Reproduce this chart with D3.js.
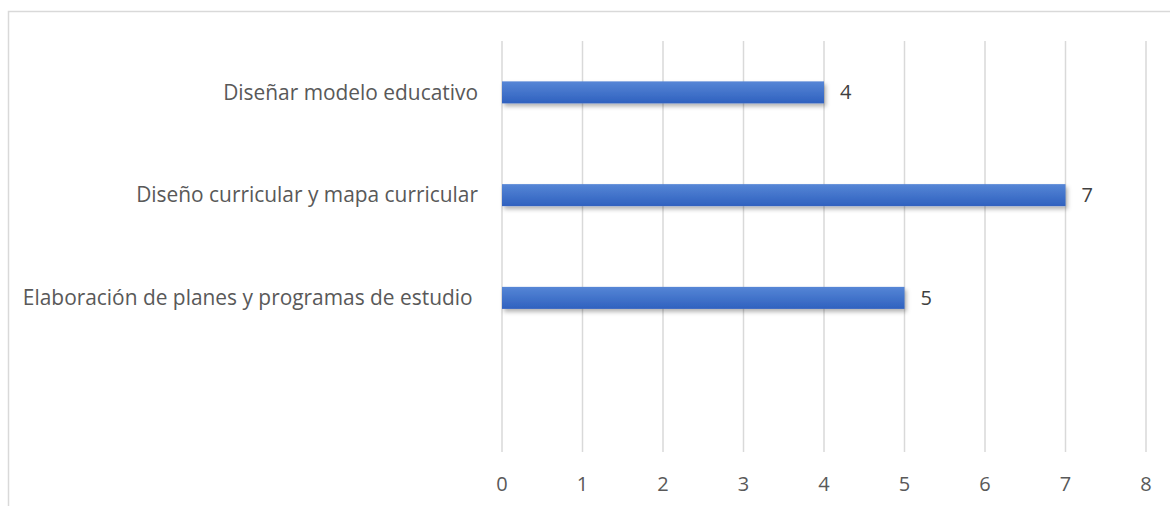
<!DOCTYPE html>
<html>
<head>
<meta charset="utf-8">
<script src="https://cdn.jsdelivr.net/npm/d3@7"></script>
<style>
  body { margin: 0; background: #fff; }
  svg { display: block; font-family: "Open Sans", sans-serif; }
</style>
</head>
<body>
<div id="chart"></div>
<script>
const width = 1170;
const height = 506;

// categories top to bottom (last band is empty in the original)
const categories = [
  "Diseñar modelo educativo",
  "Diseño curricular y mapa curricular",
  "Elaboración de planes y programas de estudio ",
  ""
];
const values = [4, 7, 5, null];
const ticks = [0, 1, 2, 3, 4, 5, 6, 7, 8];

const margin = { top: 41, right: 24, bottom: 54, left: 502 };

const svg = d3
  .select("#chart")
  .append("svg")
  .attr("width", width)
  .attr("height", height);

const defs = svg.append("defs");
const grad = defs.append("linearGradient")
  .attr("id", "barGrad")
  .attr("x1", 0).attr("y1", 0).attr("x2", 0).attr("y2", 1);
grad.append("stop").attr("offset", "0%").attr("stop-color", "#5686d6");
grad.append("stop").attr("offset", "100%").attr("stop-color", "#2f61bf");

const shadow = defs.append("filter").attr("id", "shadow")
  .attr("x", "-5%").attr("y", "-30%").attr("width", "110%").attr("height", "180%");
shadow.append("feDropShadow")
  .attr("dx", 2).attr("dy", 3).attr("stdDeviation", 2)
  .attr("flood-color", "#000").attr("flood-opacity", 0.3);

// chart frame (partly cropped in the original)
svg.append("path")
  .attr("d", `M8.5,${height} V11.5 H${width}`)
  .attr("fill", "none")
  .attr("stroke", "#d9d9d9")
  .attr("stroke-width", 1.5);

const x = d3.scaleLinear()
  .domain([0, 8])
  .range([margin.left, width - margin.right]);

const y = d3.scaleBand()
  .domain(categories.map((d, i) => i))
  .range([margin.top, height - margin.bottom]);

// gridlines
svg.append("g")
  .selectAll("line")
  .data(ticks)
  .join("line")
  .attr("x1", d => x(d)).attr("x2", d => x(d))
  .attr("y1", margin.top).attr("y2", height - margin.bottom)
  .attr("stroke", "#d9d9d9")
  .attr("stroke-width", 1.5);

// x tick labels
svg.append("g")
  .selectAll("text")
  .data(ticks)
  .join("text")
  .attr("x", d => x(d))
  .attr("y", 491)
  .attr("text-anchor", "middle")
  .attr("fill", "#595959")
  .style("font-size", "20px")
  .text(d => d);

const barH = 22;
const rows = categories.map((c, i) => ({ c, v: values[i], i }));

// category labels
svg.append("g")
  .selectAll("text")
  .data(rows)
  .join("text")
  .attr("x", 478)
  .attr("y", d => y(d.i) + y.bandwidth() / 2)
  .attr("dy", "0.35em")
  .attr("text-anchor", "end")
  .attr("fill", "#595959")
  .style("font-size", "20.9px")
  .style("white-space", "pre")
  .text(d => d.c);

const withVal = rows.filter(d => d.v != null);

svg.append("g")
  .selectAll("rect")
  .data(withVal)
  .join("rect")
  .attr("x", x(0))
  .attr("y", d => y(d.i) + y.bandwidth() / 2 - barH / 2)
  .attr("width", d => x(d.v) - x(0))
  .attr("height", barH)
  .attr("fill", "url(#barGrad)")
  .attr("filter", "url(#shadow)");

// value labels
svg.append("g")
  .selectAll("text")
  .data(withVal)
  .join("text")
  .attr("x", d => x(d.v) + 16)
  .attr("y", d => y(d.i) + y.bandwidth() / 2)
  .attr("dy", "0.35em")
  .attr("fill", "#404040")
  .style("font-size", "20px")
  .text(d => d.v);
</script>
</body>
</html>
